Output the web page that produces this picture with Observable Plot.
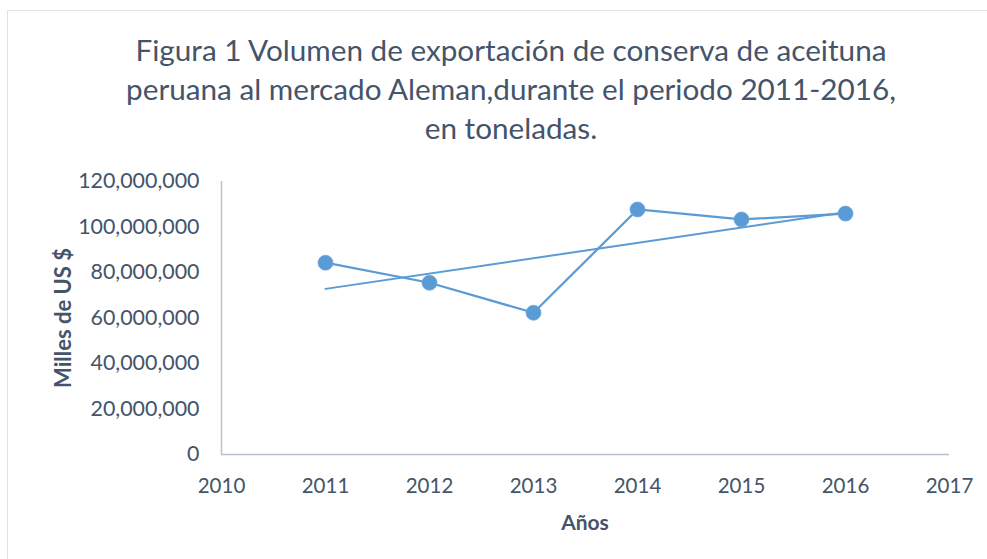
<!DOCTYPE html>
<html>
<head>
<meta charset="utf-8">
<script src="https://cdn.jsdelivr.net/npm/d3@7"></script>
<script src="https://cdn.jsdelivr.net/npm/@observablehq/plot@0.6"></script>
<style>
  html, body { margin: 0; padding: 0; background: #fff; }
  #wrap { position: relative; width: 987px; height: 559px; overflow: hidden; font-family: Lato, "Open Sans", sans-serif; }
  #frame { position: absolute; left: 7px; top: 10px; width: 1100px; height: 700px; border: 1px solid #dde2ea; box-sizing: border-box; }
  #title { position: absolute; left: 0; top: 30px; width: 1022px; text-align: center; font-size: 29.7px; line-height: 39px; color: #44546a; }
  #chart { position: absolute; left: 0; top: 150px; }
  #ylab { position: absolute; left: 62px; top: 318px; transform: translate(-50%, -50%) rotate(-90deg); font-size: 22px; font-weight: bold; color: #44546a; white-space: nowrap; }
  #xlab { position: absolute; left: 585px; top: 521px; transform: translate(-50%, -50%); font-size: 21px; font-weight: bold; color: #44546a; white-space: nowrap; }
</style>
</head>
<body>
<div id="wrap">
  <div id="frame"></div>
  <div id="title"></div>
  <div id="chart"></div>
  <div id="ylab"></div>
  <div id="xlab"></div>
</div>
<script>
const titleLines = [
  "Figura 1 Volumen de exportación de conserva de aceituna",
  "peruana al mercado Aleman,durante el periodo 2011-2016,",
  "en toneladas."
];
const yLabel = "Milles de US $";
const xLabel = "Años";

const years = [2011, 2012, 2013, 2014, 2015, 2016];
const values = [84300000, 75500000, 62300000, 107700000, 103300000, 105900000];

const trendYears = [2011, 2016];
const trendValues = [72800000, 106500000];

const xTicks = [2010, 2011, 2012, 2013, 2014, 2015, 2016, 2017];
const yTicks = [0, 20000000, 40000000, 60000000, 80000000, 100000000, 120000000];

document.getElementById("title").innerHTML = titleLines.join("<br>");
document.getElementById("ylab").textContent = yLabel;
document.getElementById("xlab").textContent = xLabel;

const series = years.map((y, i) => ({year: y, value: values[i]}));
const trend = trendYears.map((y, i) => ({year: y, value: trendValues[i]}));

const blue = "#5b9bd5";
const axisColor = "#b7c1d0";
const textColor = "#44546a";

const plot = Plot.plot({
  width: 987,
  height: 409,
  marginTop: 31,
  marginBottom: 105,
  marginLeft: 221,
  marginRight: 38,
  style: { fontFamily: "Lato, 'Open Sans', sans-serif", color: textColor, background: "transparent" },
  x: { domain: [2010, 2017] },
  y: { domain: [0, 120000000] },
  marks: [
    Plot.axisY({ ticks: yTicks, tickFormat: d3.format(","), tickSize: 0, tickPadding: 22, fontSize: 21.4, label: null, fill: textColor }),
    Plot.axisX({ ticks: xTicks, tickFormat: d => String(d), tickSize: 0, tickPadding: 24, fontSize: 20.5, label: null, fill: textColor }),
    Plot.ruleY([0], { stroke: axisColor, strokeWidth: 1.5 }),
    Plot.ruleX([2010], { stroke: axisColor, strokeWidth: 1.5 }),
    Plot.line(series, { x: "year", y: "value", stroke: blue, strokeWidth: 2.25 }),
    Plot.line(trend, { x: "year", y: "value", stroke: blue, strokeWidth: 2 }),
    Plot.dot(series, { x: "year", y: "value", r: 7.5, fill: blue, stroke: "#6aa6dc", strokeWidth: 0.75 })
  ]
});
document.getElementById("chart").appendChild(plot);
</script>
</body>
</html>
